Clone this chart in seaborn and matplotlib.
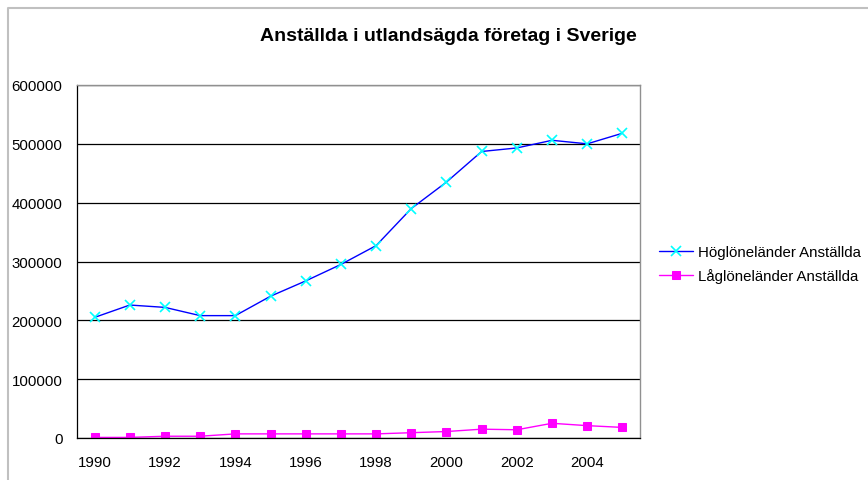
import numpy as np
import pandas as pd
import seaborn as sns
import matplotlib.pyplot as plt
from matplotlib.lines import Line2D

years = list(range(1990, 2006))
hog = [205000, 226000, 222000, 208000, 208000, 241000, 267000, 295000,
       327000, 390000, 435000, 487000, 493000, 506000, 500000, 518000]
lag = [1000, 1000, 3000, 3000, 7000, 7000, 7000, 7000,
       7000, 9000, 11000, 15000, 14000, 25000, 21000, 18000]
series_names = ['Höglöneländer Anställda', 'Låglöneländer Anställda']

sns.set_style('white')
plt.rcParams['font.family'] = ['Liberation Sans', 'DejaVu Sans']
plt.rcParams['text.color'] = 'black'
plt.rcParams['xtick.color'] = 'black'
plt.rcParams['ytick.color'] = 'black'

df = pd.DataFrame({'year': years * 2,
                   'value': hog + lag,
                   'serie': [series_names[0]] * len(years) + [series_names[1]] * len(years)})

fig = plt.figure(figsize=(8.68, 4.81), dpi=100)
# chart area frame (only top and left edges are visible)
fig.lines.append(Line2D([8 / 868, 8 / 868, 1.0], [0.0, 1 - 8.5 / 481, 1 - 8.5 / 481],
                        transform=fig.transFigure, color='#c0c0c0', linewidth=1.5))
ax = fig.add_axes([77 / 868, 1 - 439 / 481, 563 / 868, 353 / 481])

sns.lineplot(data=df[df.serie == series_names[0]], x='year', y='value', ax=ax,
             color='#0000ff', linewidth=1, marker='x', markersize=7,
             markeredgecolor='#00ffff', markeredgewidth=1.2, label=series_names[0])
sns.lineplot(data=df[df.serie == series_names[1]], x='year', y='value', ax=ax,
             color='#ff00ff', linewidth=1, marker='s', markersize=5.5,
             markeredgecolor='#ff00ff', markerfacecolor='#ff00ff', label=series_names[1])

fs = 10.8
ax.set_xlim(1989.5, 2005.5)
ax.set_ylim(0, 600000)
ax.set_yticks(np.arange(0, 600001, 100000))
ax.set_yticklabels([str(v) for v in range(0, 600001, 100000)], fontsize=fs)
ax.yaxis.grid(True, color='black', linewidth=0.9)
ax.set_axisbelow(True)

ax.set_xticks(np.arange(1989.5, 2006, 1))
ax.set_xticklabels([])
ax.set_xticks(years[::2], minor=True)
ax.set_xticklabels([str(y) for y in years[::2]], minor=True, fontsize=fs)
ax.tick_params(axis='x', which='major', direction='out', length=4, color='black', width=0.8)
ax.tick_params(axis='x', which='minor', length=0, pad=12)
ax.tick_params(axis='y', direction='out', length=5, color='black', width=0.8, pad=5.5)

ax.set_xlabel('')
ax.set_ylabel('')
for side in ['left', 'bottom']:
    ax.spines[side].set_color('black')
    ax.spines[side].set_linewidth(0.9)
for side in ['right', 'top']:
    ax.spines[side].set_color('#909090')
    ax.spines[side].set_linewidth(1.0)

ax.legend(loc='center left', bbox_to_anchor=(1.0096, 0.492), frameon=False,
          fontsize=fs, handlelength=2.3, handletextpad=0.3, labelspacing=0.62)

fig.text(448 / 868, 1 - 37 / 481, 'Anställda i utlandsägda företag i Sverige',
         ha='center', va='center', fontsize=14, fontweight='bold')

fig.savefig('out.png', dpi=100)
